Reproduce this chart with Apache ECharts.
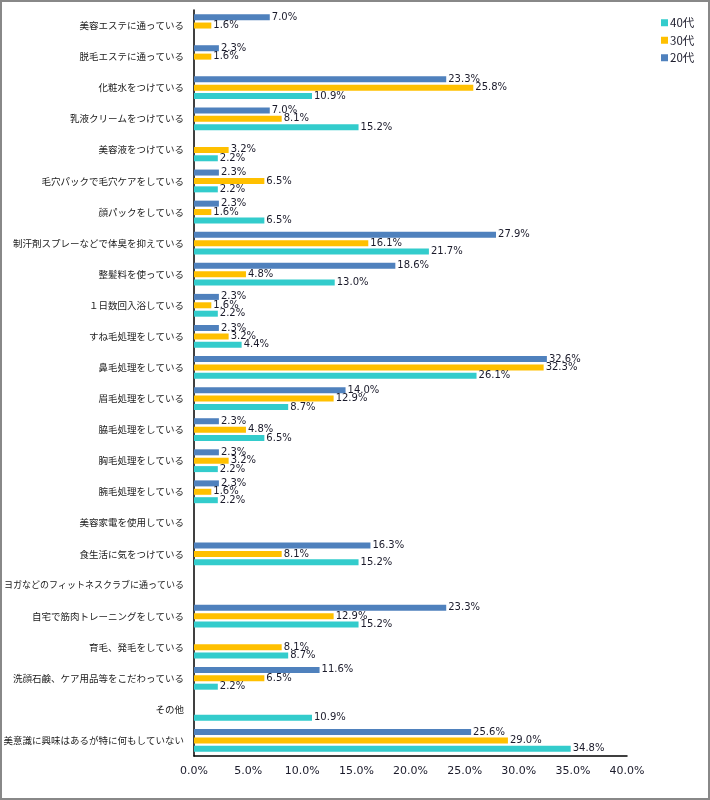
<!DOCTYPE html>
<html><head><meta charset="utf-8">
<script src="https://cdn.jsdelivr.net/npm/echarts@6/dist/echarts.min.js"></script>
<style>html,body{margin:0;padding:0;background:#fff}#c{width:710px;height:800px}</style>
</head><body><div id="c"></div>
<script>
const categories = ['美容エステに通っている','脱毛エステに通っている','化粧水をつけている','乳液クリームをつけている','美容液をつけている','毛穴パックで毛穴ケアをしている','顔パックをしている','制汗剤スプレーなどで体臭を抑えている','整髪料を使っている','１日数回入浴している','すね毛処理をしている','鼻毛処理をしている','眉毛処理をしている','脇毛処理をしている','胸毛処理をしている','腕毛処理をしている','美容家電を使用している','食生活に気をつけている','ヨガなどのフィットネスクラブに通っている','自宅で筋肉トレーニングをしている','育毛、発毛をしている','洗顔石鹸、ケア用品等をこだわっている','その他','美意識に興味はあるが特に何もしていない'];
const s20 = [7.0,2.3,23.3,7.0,null,2.3,2.3,27.9,18.6,2.3,2.3,32.6,14.0,2.3,2.3,2.3,null,16.3,null,23.3,null,11.6,null,25.6];
const s30 = [1.6,1.6,25.8,8.1,3.2,6.5,1.6,16.1,4.8,1.6,3.2,32.3,12.9,4.8,3.2,1.6,null,8.1,null,12.9,8.1,6.5,null,29.0];
const s40 = [null,null,10.9,15.2,2.2,2.2,6.5,21.7,13.0,2.2,4.4,26.1,8.7,6.5,2.2,2.2,null,15.2,null,15.2,8.7,2.2,10.9,34.8];
const xTicks = [0,5,10,15,20,25,30,35,40];

const chart = echarts.init(document.getElementById('c'));
const lbl = {show:true, position:'right', distance:2, fontFamily:'DejaVu Sans', fontSize:10, color:'#1a1a2a',
  formatter: p => p.value == null ? '' : p.value.toFixed(1) + '%'};
function ser(name, data, color){
  return {name, type:'bar', data, barWidth:6, barGap:'40%', itemStyle:{color}, label:lbl, animation:false};
}
chart.setOption({
  animation:false,
  grid:{left:194, right:83, top:10, bottom:44, containLabel:false},
  legend:{orient:'vertical', left:656, top:12, itemWidth:7, itemHeight:7, itemGap:6,
    icon:'rect', data:['40代','30代','20代'],
    textStyle:{fontFamily:'Noto Sans CJK JP', fontSize:11.5, color:'#1a1a2a', padding:[0,0,0,-3]}},
  xAxis:{type:'value', min:xTicks[0], max:xTicks[xTicks.length-1], interval:5,
    axisLine:{show:true, lineStyle:{color:'#000', width:1.5}}, axisTick:{show:false}, splitLine:{show:false},
    axisLabel:{fontFamily:'DejaVu Sans', fontSize:11, color:'#1a1a2a', margin:10, formatter: v => v.toFixed(1)+'%'}},
  yAxis:{type:'category', inverse:true, data:categories,
    axisLine:{show:true, lineStyle:{color:'#000', width:1.5}}, axisTick:{show:false},
    axisLabel:{fontFamily:'Noto Sans CJK JP', fontSize:9.5, color:'#1a1a1a', margin:10, interval:0,
      formatter: v => v.length >= 20 ? '{s|' + v + '}' : v, rich:{s:{fontFamily:'Noto Sans CJK JP', fontSize:9, color:'#1a1a1a'}}}},
  graphic:[{type:'rect', shape:{x:1, y:1, width:708, height:798}, style:{fill:null, stroke:'#888', lineWidth:2}, silent:true}],
  series:[ser('20代', s20, '#4F81BD'), ser('30代', s30, '#FFC000'), ser('40代', s40, '#33CCCC')]
});
</script></body></html>
